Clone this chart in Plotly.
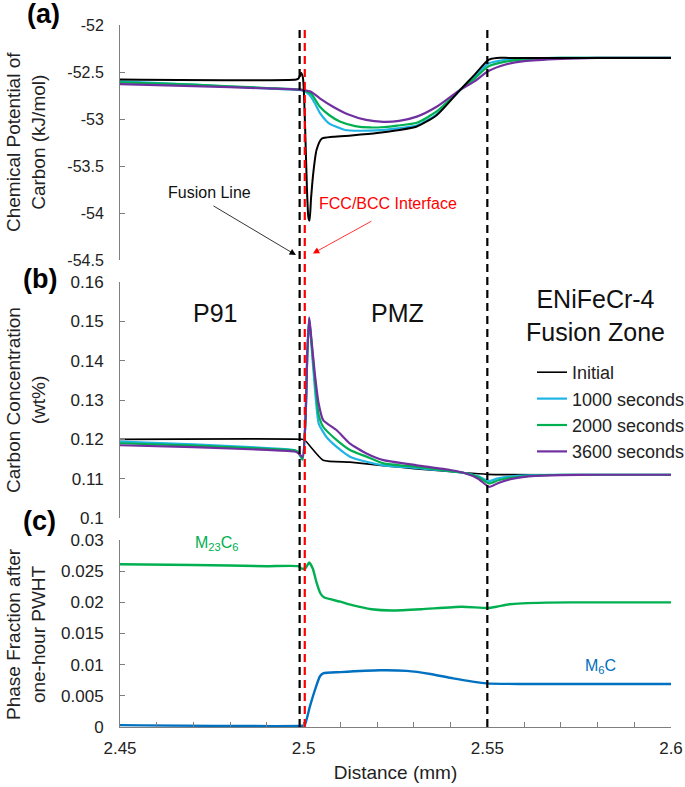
import plotly.graph_objects as go
from plotly.subplots import make_subplots

# ---------------- data ----------------
series_names = ["Initial", "1000 seconds", "2000 seconds", "3600 seconds"]
series_colors = ["#000000", "#1FB4E4", "#00B050", "#7030A0"]

# (a) chemical potential of carbon (kJ/mol)
a_init_x = [2.45, 2.498, 2.4986, 2.4993, 2.4998, 2.5004, 2.5009, 2.5013, 2.5016, 2.502, 2.5026, 2.5035,
            2.5049, 2.508, 2.513, 2.52, 2.5255, 2.5308, 2.5362, 2.5426, 2.5465, 2.5503, 2.5525, 2.556, 2.6]
a_init_y = [-52.58, -52.58, -52.57, -52.51, -52.56, -53.1, -53.75, -54.05, -54.08, -53.85, -53.58, -53.33,
            -53.21, -53.19, -53.175, -53.15, -53.12, -53.08, -52.96, -52.69, -52.53, -52.37, -52.35, -52.35, -52.35]
a_1000_x = [2.45, 2.47, 2.49, 2.4995, 2.5015, 2.503, 2.5045, 2.507, 2.51, 2.5113, 2.515, 2.52, 2.5255,
            2.5308, 2.5362, 2.5426, 2.5465, 2.5503, 2.555, 2.56, 2.57, 2.6]
a_1000_y = [-52.60, -52.635, -52.675, -52.695, -52.74, -52.83, -52.94, -53.05, -53.10, -53.117, -53.125,
            -53.12, -53.10, -53.07, -52.95, -52.69, -52.55, -52.41, -52.37, -52.355, -52.35, -52.35]
a_2000_x = [2.45, 2.47, 2.49, 2.4995, 2.502, 2.5044, 2.507, 2.51, 2.514, 2.518, 2.522, 2.5255, 2.5308,
            2.5362, 2.5426, 2.5465, 2.5503, 2.555, 2.56, 2.57, 2.6]
a_2000_y = [-52.61, -52.635, -52.67, -52.69, -52.73, -52.87, -52.96, -53.03, -53.075, -53.09, -53.085,
            -53.07, -53.04, -52.92, -52.69, -52.57, -52.44, -52.39, -52.365, -52.35, -52.35]
a_3600_x = [2.45, 2.47, 2.49, 2.4995, 2.502, 2.5044, 2.508, 2.512, 2.517, 2.5217, 2.526, 2.5308, 2.5362,
            2.5426, 2.5465, 2.5503, 2.555, 2.56, 2.57, 2.58, 2.6]
a_3600_y = [-52.63, -52.65, -52.675, -52.69, -52.71, -52.78, -52.87, -52.95, -53.01, -53.03, -53.02,
            -52.975, -52.87, -52.69, -52.60, -52.49, -52.42, -52.385, -52.36, -52.35, -52.35]

# (b) carbon concentration (wt%)
b_init_x = [2.45, 2.4995, 2.5003, 2.5053, 2.5126, 2.5217, 2.5308, 2.5435, 2.55, 2.6]
b_init_y = [0.1200, 0.1200, 0.1198, 0.1147, 0.1142, 0.1133, 0.1125, 0.1115, 0.1111, 0.1110]
b_1000_x = [2.45, 2.47, 2.49, 2.4975, 2.4985, 2.4997, 2.5005, 2.501, 2.5015, 2.502, 2.503, 2.5041,
            2.5062, 2.51, 2.5126, 2.5171, 2.5217, 2.5308, 2.5435, 2.5475, 2.5505, 2.553, 2.557, 2.563, 2.57, 2.6]
b_1000_y = [0.1194, 0.1187, 0.1178, 0.1173, 0.1168, 0.1148, 0.125, 0.142, 0.1505, 0.1455, 0.1335, 0.124,
            0.1206, 0.1173, 0.1156, 0.1143, 0.1134, 0.1127, 0.1115, 0.1106, 0.1094, 0.1101, 0.1106, 0.1109, 0.1110, 0.1110]
b_2000_x = [2.45, 2.47, 2.49, 2.4975, 2.4985, 2.4997, 2.5005, 2.501, 2.5015, 2.502, 2.503, 2.5041,
            2.5053, 2.509, 2.5126, 2.5171, 2.5217, 2.5308, 2.5435, 2.5475, 2.5505, 2.553, 2.557, 2.563, 2.57, 2.6]
b_2000_y = [0.1190, 0.1184, 0.1176, 0.1172, 0.1167, 0.1150, 0.125, 0.142, 0.1507, 0.146, 0.1355, 0.1262,
            0.1232, 0.1198, 0.1173, 0.1156, 0.1139, 0.1130, 0.1115, 0.1104, 0.1088, 0.1096, 0.1103, 0.1108, 0.1110, 0.1110]
b_3600_x = [2.45, 2.47, 2.49, 2.4975, 2.4985, 2.4997, 2.5005, 2.501, 2.5015, 2.502, 2.503, 2.504,
            2.5053, 2.509, 2.5126, 2.5171, 2.5217, 2.5308, 2.5399, 2.5435, 2.5475, 2.5505, 2.553, 2.557, 2.563,
            2.57, 2.58, 2.6]
b_3600_y = [0.1185, 0.1180, 0.1173, 0.1169, 0.1165, 0.1155, 0.125, 0.142, 0.1510, 0.1465, 0.137, 0.1295,
            0.1249, 0.1223, 0.1189, 0.1164, 0.1147, 0.1134, 0.1122, 0.1115, 0.1100, 0.1079, 0.1089, 0.1100, 0.1107,
            0.1109, 0.1110, 0.1110]

# (c) phase fraction after one-hour PWHT
c_m23c6_x = [2.45, 2.47, 2.49, 2.4985, 2.4995, 2.5005, 2.5015, 2.5025, 2.5035, 2.5045, 2.5055, 2.51,
             2.5135, 2.5185, 2.524, 2.532, 2.543, 2.55, 2.5525, 2.556, 2.566, 2.58, 2.6]
c_m23c6_y = [0.0261, 0.0260, 0.0258, 0.0258, 0.0254, 0.0255, 0.0264, 0.0254, 0.0232, 0.0215, 0.0208,
             0.0201, 0.0195, 0.0189, 0.0187, 0.0189, 0.0193, 0.0191, 0.0193, 0.0197, 0.01995, 0.0200, 0.0200]
c_m6c_x = [2.45, 2.4998, 2.5003, 2.5017, 2.5031, 2.5044, 2.5053, 2.51, 2.5208, 2.5281, 2.5345, 2.5407,
           2.5498, 2.56, 2.6]
c_m6c_y = [0.0003, 0.0002, 0.0003, 0.0033, 0.0060, 0.0081, 0.0086, 0.0088, 0.0091, 0.0090, 0.0085, 0.0078,
           0.0070, 0.0069, 0.0069]

x_tickvals = [2.45, 2.5, 2.55, 2.6]
x_ticktext = ["2.45", "2.5", "2.55", "2.6"]
x_minorvals = [2.46, 2.47, 2.48, 2.49, 2.51, 2.52, 2.53, 2.54, 2.56, 2.57, 2.58, 2.59]
a_tickvals = [-54.5, -54, -53.5, -53, -52.5, -52]
a_ticktext = ["-54.5", "-54", "-53.5", "-53", "-52.5", "-52"]
b_tickvals = [0.1, 0.11, 0.12, 0.13, 0.14, 0.15, 0.16]
b_ticktext = ["0.1", "0.11", "0.12", "0.13", "0.14", "0.15", "0.16"]
c_tickvals = [0, 0.005, 0.01, 0.015, 0.02, 0.025, 0.03]
c_ticktext = ["0", "0.005", "0.01", "0.015", "0.02", "0.025", "0.03"]

fusion_line_x = 2.4989
fcc_bcc_x = 2.5003
pmz_end_x = 2.55

# ---------------- figure ----------------
FONT = "Liberation Sans, Arial, sans-serif"
fig = make_subplots(rows=3, cols=1, shared_xaxes=True)

a_sets = [(a_init_x, a_init_y), (a_1000_x, a_1000_y), (a_2000_x, a_2000_y), (a_3600_x, a_3600_y)]
b_sets = [(b_init_x, b_init_y), (b_1000_x, b_1000_y), (b_2000_x, b_2000_y), (b_3600_x, b_3600_y)]
for i in [1, 2, 3, 0]:
    xs, ys = a_sets[i]
    fig.add_trace(go.Scatter(x=xs, y=ys, mode="lines", name=series_names[i], showlegend=False,
                             line=dict(color=series_colors[i], width=2.2 if i else 2,
                                       shape="spline", smoothing=0.6)), row=1, col=1)
for i in [0, 1, 2, 3]:
    xs, ys = b_sets[i]
    fig.add_trace(go.Scatter(x=xs, y=ys, mode="lines", name=series_names[i], showlegend=True,
                             line=dict(color=series_colors[i], width=2.2 if i else 1.6,
                                       shape="spline", smoothing=0.5)), row=2, col=1)
fig.add_trace(go.Scatter(x=c_m23c6_x, y=c_m23c6_y, mode="lines", showlegend=False,
                         line=dict(color="#00B050", width=2.4, shape="spline", smoothing=0.5)), row=3, col=1)
fig.add_trace(go.Scatter(x=c_m6c_x, y=c_m6c_y, mode="lines", showlegend=False,
                         line=dict(color="#0070C0", width=2.4, shape="spline", smoothing=0.5)), row=3, col=1)

W, H = 685, 787
L, R, T, B = 120, 14, 25, 60
ph = H - T - B


def py(p):
    return (H - B - p) / ph


def px(p):
    return (p - L) / (W - L - R)


axis_col = "#7f7f7f"
tickfont = dict(family=FONT, size=17, color="#222222")
yax_common = dict(showline=True, linecolor=axis_col, linewidth=1, ticks="inside", ticklen=5,
                  tickcolor=axis_col, showgrid=False, zeroline=False, ticklabelstandoff=12,
                  tickfont=tickfont, automargin=False)
fig.update_layout(
    yaxis=dict(domain=[py(260), py(25)], range=[-54.5, -52], tickvals=a_tickvals, ticktext=a_ticktext,
               **{**yax_common, "tickfont": dict(family=FONT, size=16, color="#222222")}),
    yaxis2=dict(domain=[py(518), py(282)], range=[0.1, 0.16], tickvals=b_tickvals, ticktext=b_ticktext,
                **yax_common),
    yaxis3=dict(domain=[0, py(540)], range=[0, 0.03], tickvals=c_tickvals, ticktext=c_ticktext,
                **yax_common),
)
for ax in ["xaxis", "xaxis2"]:
    fig.layout[ax].update(range=[2.45, 2.6], showline=False, showticklabels=False, ticks="",
                          showgrid=False, zeroline=False, automargin=False)
fig.layout.xaxis3.update(range=[2.45, 2.6], showline=True, linecolor=axis_col, linewidth=1,
                         tickvals=x_tickvals, ticktext=x_ticktext, ticks="inside", ticklen=5,
                         tickcolor=axis_col, showgrid=False, zeroline=False, tickfont=tickfont,
                         ticklabelstandoff=6, automargin=False,
                         minor=dict(tickvals=x_minorvals, ticks="inside", ticklen=5, tickcolor=axis_col),
                         title=dict(text="Distance (mm)", font=dict(family=FONT, size=19, color="#222222"),
                                    standoff=8))

# vertical dashed boundaries
for xv, col in [(fusion_line_x, "#000000"), (fcc_bcc_x, "#FF0000"), (pmz_end_x, "#000000")]:
    fig.add_shape(type="line", xref="x3", yref="paper", x0=xv, x1=xv, y0=0, y1=1.0,
                  line=dict(color=col, width=2.2, dash="8px,5px"), layer="above")

ann = []
for lab, xp, yp in [("(a)", 43, 14), ("(b)", 40, 279), ("(c)", 39, 521)]:
    ann.append(dict(text="<b>%s</b>" % lab, xref="paper", yref="paper", x=px(xp), y=py(yp),
                    showarrow=False, font=dict(family=FONT, size=27, color="#000000"),
                    xanchor="center", yanchor="middle"))
for txt, yc in [("Chemical Potential of<br>Carbon (kJ/mol)", 142),
                ("Carbon Concentration<br>(wt%)", 400),
                ("Phase Fraction after<br>one-hour PWHT", 634)]:
    ann.append(dict(text=txt, xref="paper", yref="paper", x=px(26), y=py(yc), textangle=-90,
                    showarrow=False, font=dict(family=FONT, size=19, color="#222222"),
                    xanchor="center", yanchor="middle"))
big = dict(family=FONT, size=25, color="#111111")
ann.append(dict(text="P91", xref="x2", yref="y2", x=2.4758, y=0.1521, showarrow=False, font=big))
ann.append(dict(text="PMZ", xref="x2", yref="y2", x=2.5256, y=0.1521, showarrow=False, font=big))
ann.append(dict(text="ENiFeCr-4<br>Fusion Zone", xref="x2", yref="y2", x=2.5795, y=0.1515,
                showarrow=False, font=big))
ann.append(dict(text="Fusion Line", xref="x", yref="y", x=2.4744, y=-53.78, showarrow=False,
                font=dict(family=FONT, size=16, color="#111111")))
ann.append(dict(text="FCC/BCC Interface", xref="x", yref="y", x=2.5229, y=-53.90, showarrow=False,
                font=dict(family=FONT, size=16, color="#FF0000")))
ann.append(dict(text="", xref="x", yref="y", x=2.4979, y=-54.447, ax=-84, ay=-50, showarrow=True,
                arrowhead=2, arrowsize=1.6, arrowwidth=0.8, arrowcolor="#000000"))
ann.append(dict(text="", xref="x", yref="y", x=2.5025, y=-54.43, ax=60, ay=-33, showarrow=True,
                arrowhead=2, arrowsize=1.6, arrowwidth=0.8, arrowcolor="#FF0000"))
ann.append(dict(text="M<sub>23</sub>C<sub>6</sub>", xref="x3", yref="y3", x=2.4763, y=0.0294,
                showarrow=False, font=dict(family=FONT, size=16, color="#00B050")))
ann.append(dict(text="M<sub>6</sub>C", xref="x3", yref="y3", x=2.5807, y=0.00965,
                showarrow=False, font=dict(family=FONT, size=16, color="#0070C0")))

fig.update_layout(
    width=W, height=H, margin=dict(l=L, r=R, t=T, b=B, autoexpand=False),
    paper_bgcolor="white", plot_bgcolor="white",
    font=dict(family=FONT, color="#222222"),
    annotations=ann,
    legend=dict(x=px(532), y=py(354), xanchor="left", yanchor="top", bgcolor="rgba(0,0,0,0)",
                font=dict(family=FONT, size=18, color="#222222"), itemwidth=30, tracegroupgap=0),
)

fig.write_html("out.html", config={"displayModeBar": False},
               post_script="document.body.style.margin='0';document.body.style.overflow='hidden';")
